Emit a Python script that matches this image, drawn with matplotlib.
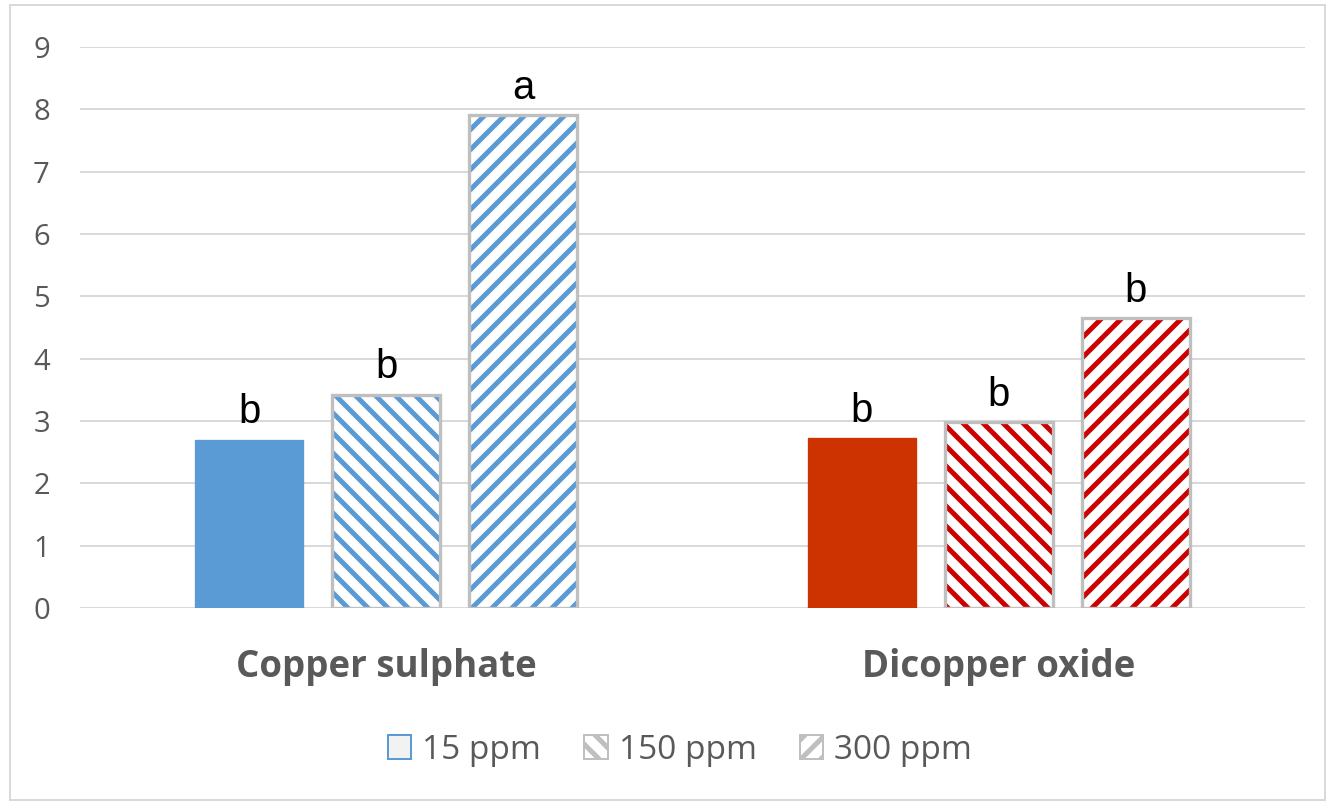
import matplotlib.pyplot as plt
import numpy as np
from matplotlib.patches import Patch, Rectangle

plt.rcParams['font.family'] = ['Open Sans', 'DejaVu Sans']
plt.rcParams['hatch.linewidth'] = 3.0

# data
groups = ['Copper sulphate', 'Dicopper oxide']
doses = ['15 ppm', '150 ppm', '300 ppm']
values = {
    '15 ppm': [2.70, 2.73],
    '150 ppm': [3.42, 2.98],
    '300 ppm': [7.91, 4.65],
}
letters = {
    '15 ppm': ['b', 'b'],
    '150 ppm': ['b', 'b'],
    '300 ppm': ['a', 'b'],
}

solid_cols = ['#5b9bd5', '#cc3300']
hatch_cols = ['#5b9bd5', '#cc0000']
hatches = [None, '\\\\', '//']
txt = '#595959'
grid = '#d9d9d9'

dpi = 120
fig = plt.figure(figsize=(1331 / dpi, 803 / dpi), dpi=dpi)
ax = fig.add_axes([0.060, 0.2428, 0.9205, 0.6987])

x = np.arange(len(groups))
w = 0.176
step = 0.2237

for i, d in enumerate(doses):
    pos = x + (i - 1) * step
    for j in range(len(groups)):
        v = values[d][j]
        if hatches[i] is None:
            ax.bar(pos[j], v, w, color=solid_cols[j], edgecolor=solid_cols[j],
                   linewidth=0.8, zorder=3)
        else:
            ax.bar(pos[j], v, w, facecolor='white', edgecolor=hatch_cols[j],
                   hatch=hatches[i], linewidth=0, zorder=3)
            ax.bar(pos[j], v, w, fill=False, edgecolor='#bfbfbf',
                   linewidth=2, zorder=4)
        ax.annotate(letters[d][j], (pos[j], v), xytext=(0, 5),
                    textcoords='offset points', ha='center', va='bottom',
                    fontsize=24, family='Liberation Sans', color='black')

ax.set_xlim(-0.5, 1.5)
ax.set_ylim(0, 9)
ax.set_yticks(range(10))
ax.yaxis.grid(True, color=grid, linewidth=1.2, zorder=0)
ax.set_axisbelow(True)
for s in ax.spines.values():
    s.set_visible(False)
ax.tick_params(length=0)
ax.tick_params(axis='y', labelsize=17.5, labelcolor=txt, pad=18)
ax.set_xticks(x)
ax.set_xticklabels(groups, fontsize=22, fontweight='bold', color=txt)
ax.tick_params(axis='x', pad=24)

handles = [
    Patch(facecolor='#f2f2f2', edgecolor='#5b9bd5', linewidth=1.2),
    Patch(facecolor='white', edgecolor='#bfbfbf', hatch='\\\\', linewidth=1.2),
    Patch(facecolor='white', edgecolor='#bfbfbf', hatch='//', linewidth=1.2),
]
leg = fig.legend(handles, doses, loc='center', bbox_to_anchor=(0.511, 0.066),
                 ncol=3, frameon=False, fontsize=20, handlelength=0.7,
                 handleheight=0.7, handletextpad=0.33, columnspacing=1.3)
for t in leg.get_texts():
    t.set_color(txt)

fig.patches.append(Rectangle((10 / 1331, 3 / 803), 1315 / 1331, 795 / 803,
                             transform=fig.transFigure, fill=False,
                             edgecolor='#d9d9d9', linewidth=1.2))

fig.savefig('out.png', dpi=dpi)
